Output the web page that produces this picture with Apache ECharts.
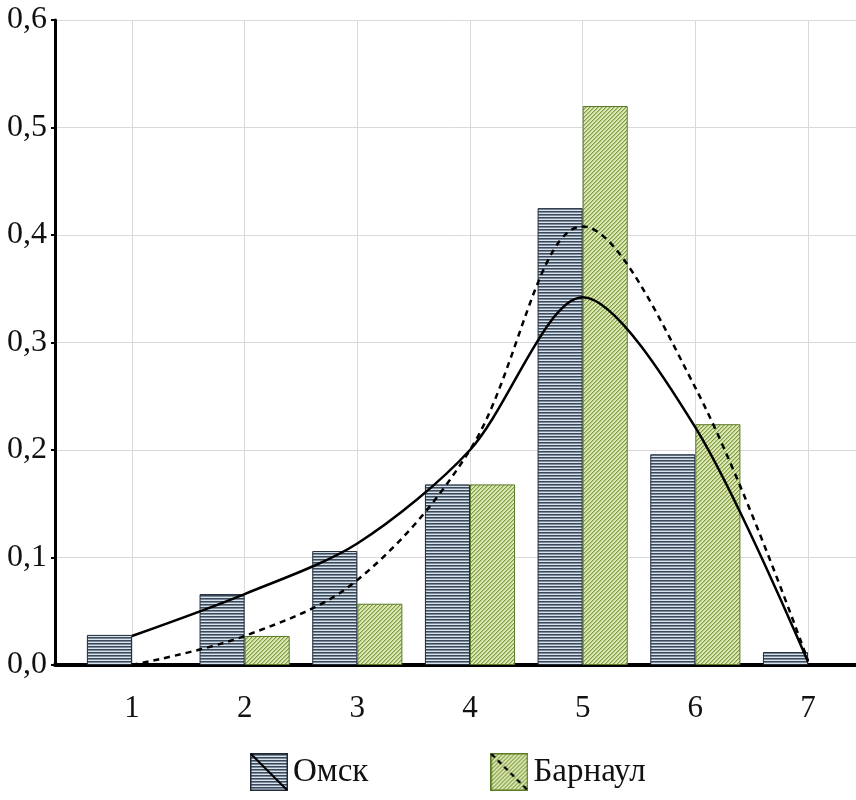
<!DOCTYPE html>
<html>
<head>
<meta charset="utf-8">
<script src="https://cdn.jsdelivr.net/npm/echarts@6/dist/echarts.min.js"></script>
<style>html,body{margin:0;padding:0;background:#fff}#chart{width:856px;height:800px}</style>
</head>
<body>
<div id="chart"></div>
<script>
// ---- data ----
var categories = [1, 2, 3, 4, 5, 6, 7];
var omskBars = [0.028, 0.066, 0.106, 0.168, 0.425, 0.196, 0.012];
var barnaulBars = [0, 0.027, 0.057, 0.168, 0.520, 0.224, 0];
var omskCurve = [0.027, 0.066, 0.113, 0.200, 0.342, 0.221, 0.003];
var barnaulCurve = [0.000, 0.027, 0.079, 0.200, 0.408, 0.258, 0.004];
var yTicks = [0, 0.1, 0.2, 0.3, 0.4, 0.5, 0.6];
var seriesNames = ['Омск', 'Барнаул'];

function pairs(vals) { return categories.map(function (c, i) { return [c, vals[i]]; }); }
function barItems(vals) {
  return categories.map(function (c, i) {
    var it = { value: [c, vals[i]] };
    if (vals[i] === 0) it.itemStyle = { borderWidth: 0, opacity: 0 };
    return it;
  });
}

function omskPattern() {
  var c = document.createElement('canvas'); c.width = 4; c.height = 3;
  var g = c.getContext('2d');
  g.fillStyle = '#dbe3ea'; g.fillRect(0, 0, 4, 3);
  g.fillStyle = '#3a4a5c'; g.fillRect(0, 1, 4, 1);
  g.fillStyle = '#7c8b9b'; g.fillRect(0, 2, 4, 1);
  return c;
}
function barnaulPattern() {
  var c = document.createElement('canvas'); c.width = 4; c.height = 4;
  var g = c.getContext('2d');
  for (var x = 0; x < 4; x++) for (var y = 0; y < 4; y++) {
    var k = (x + y) % 4;
    g.fillStyle = k === 0 ? '#7f9a48' : (k === 1 ? '#b4c87c' : '#dde9b4');
    g.fillRect(x, y, 1, 1);
  }
  return c;
}
function legendIcon(pat, border, dashed) {
  var s = 38;
  var c = document.createElement('canvas'); c.width = s; c.height = s;
  var g = c.getContext('2d');
  g.fillStyle = g.createPattern(pat, 'repeat'); g.fillRect(0, 0, s, s);
  g.strokeStyle = border; g.lineWidth = 1.5; g.strokeRect(0.75, 0.75, s - 1.5, s - 1.5);
  g.strokeStyle = '#000'; g.lineWidth = 2.2;
  if (dashed) g.setLineDash([5, 4]);
  g.beginPath(); g.moveTo(1, 1); g.lineTo(s - 1, s - 1); g.stroke();
  return c.toDataURL();
}

var pO = omskPattern(), pB = barnaulPattern();
var font = '"Liberation Serif", "Times New Roman", serif';

var chart = echarts.init(document.getElementById('chart'));
chart.setOption({
  animation: false,
  backgroundColor: '#fff',
  grid: { left: 55, right: 0, top: 20, bottom: 135, containLabel: false },
  legend: {
    left: 245, top: 748, itemWidth: 38, itemHeight: 38, itemGap: 122,
    textStyle: { fontFamily: font, fontSize: 33, color: '#111' },
    data: [
      { name: seriesNames[0], icon: 'image://' + legendIcon(pO, '#1e2a38', false) },
      { name: seriesNames[1], icon: 'image://' + legendIcon(pB, '#5a7a2a', true) }
    ]
  },
  xAxis: {
    type: 'value', min: 0.317, max: 7.426, splitNumber: 7,
    axisLine: { show: true, onZero: false, lineStyle: { color: '#000', width: 4 } },
    axisTick: { show: false },
    axisLabel: {
      margin: 28, fontFamily: font, fontSize: 31, color: '#111',
      showMinLabel: false, showMaxLabel: false,
      formatter: function (v) { return categories.indexOf(Math.round(v * 1000) / 1000) >= 0 ? String(v) : ''; }
    },
    splitLine: { show: true, showMinLine: false, showMaxLine: false, lineStyle: { color: '#d9d9d9', width: 1 } }
  },
  yAxis: {
    type: 'value', min: yTicks[0], max: yTicks[yTicks.length - 1], interval: 0.1,
    axisLine: { show: true, onZero: false, lineStyle: { color: '#000', width: 3 } },
    axisTick: { show: true, length: 4, lineStyle: { color: '#000', width: 2 } },
    axisLabel: {
      margin: 8, fontFamily: font, fontSize: 32, color: '#111',
      formatter: function (v) { return v.toFixed(1).replace('.', ','); }
    },
    splitLine: { show: true, showMinLine: false, lineStyle: { color: '#d9d9d9', width: 1 } }
  },
  series: [
    {
      name: seriesNames[0], type: 'bar', data: barItems(omskBars), barGap: '0%', barCategoryGap: '20%',
      itemStyle: { color: { image: pO, repeat: 'repeat' }, borderColor: '#1e2a38', borderWidth: 1 }, z: 2
    },
    {
      name: seriesNames[1], type: 'bar', data: barItems(barnaulBars), barGap: '0%', barCategoryGap: '20%',
      itemStyle: { color: { image: pB, repeat: 'repeat' }, borderColor: '#5a7a2a', borderWidth: 1 }, z: 2
    },
    {
      name: 'curveO', type: 'line', data: pairs(omskCurve), smooth: 0.3, symbol: 'none',
      lineStyle: { color: '#000', width: 2.5 }, z: 5
    },
    {
      name: 'curveB', type: 'line', data: pairs(barnaulCurve), smooth: 0.35, symbol: 'none',
      lineStyle: { color: '#000', width: 2.5, type: [6, 5] }, z: 5
    }
  ]
});
</script>
</body>
</html>
